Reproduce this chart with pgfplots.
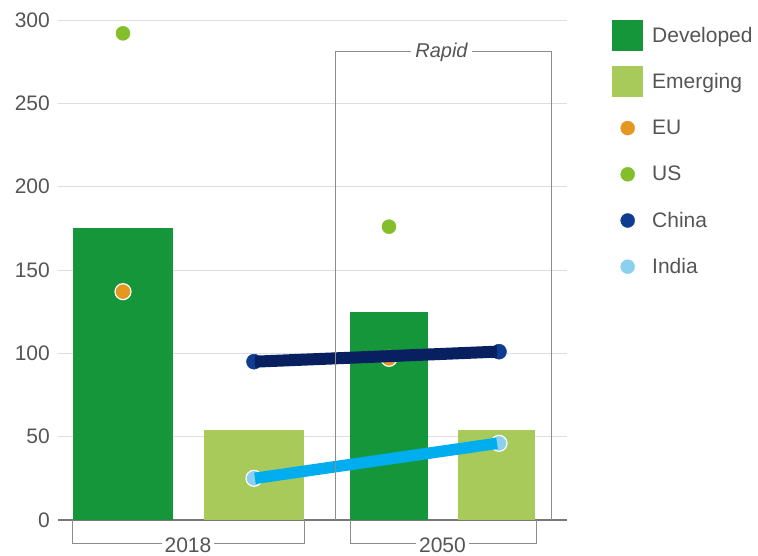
\documentclass[border=0pt]{standalone}
\usepackage{fontspec}
\setmainfont{Liberation Sans}
\usepackage{pgfplots}
\pgfplotsset{compat=1.18}
\definecolor{devC}{RGB}{22,150,58}
\definecolor{emgC}{RGB}{168,202,90}
\definecolor{euC}{RGB}{228,152,32}
\definecolor{usC}{RGB}{132,190,42}
\definecolor{chinaDot}{RGB}{14,60,145}
\definecolor{chinaLine}{RGB}{8,32,96}
\definecolor{indiaLine}{RGB}{0,174,239}
\definecolor{indiaDot}{RGB}{140,208,240}
\definecolor{textgray}{RGB}{85,85,85}
\definecolor{gridgray}{RGB}{222,222,222}
\definecolor{axisgray}{RGB}{120,120,120}
\definecolor{boxgray}{RGB}{140,140,140}
\begin{document}
\begin{tikzpicture}
\begin{axis}[
  scale only axis, width=509pt, height=500pt,
  xmin=58, xmax=567, ymin=0, ymax=300,
  clip=false, clip marker paths=true,
  axis x line*=bottom, axis y line*=left,
  x axis line style={-, draw=axisgray, line width=1.3pt},
  y axis line style={draw=none},
  xtick=\empty,
  ytick={0,50,100,150,200,250,300},
  ymajorgrids,
  grid style={draw=gridgray, line width=0.9pt},
  major tick length=0pt,
  /pgf/number format/assume math mode=true,
  yticklabel style={font=\fontsize{21}{25}\selectfont, text=textgray, inner sep=0pt, anchor=east, xshift=-8pt},
  legend style={at={(1.0884,1)}, anchor=north west, draw=none, fill=none, inner sep=0pt, row sep=15.2pt, column sep=9pt,
    nodes={inner sep=0pt, minimum height=31pt, font=\fontsize{21}{25}\selectfont, text=textgray}},
  legend cell align=left,
]
\addplot[ybar, bar width=100, bar shift=0pt, fill=devC, draw=none,
  legend image code/.code={\fill[devC] (0pt,-15.5pt) rectangle (31pt,15.5pt);}] coordinates {(123,175)};
\addlegendentry{Developed}
\addplot[forget plot, ybar, bar width=78, bar shift=0pt, fill=devC, draw=none] coordinates {(389,125)};
\addplot[ybar, bar width=100, bar shift=0pt, fill=emgC, draw=none,
  legend image code/.code={\fill[emgC] (0pt,-15.5pt) rectangle (31pt,15.5pt);}] coordinates {(254,54)};
\addlegendentry{Emerging}
\addplot[forget plot, ybar, bar width=77, bar shift=0pt, fill=emgC, draw=none] coordinates {(496.5,54)};

\addplot[only marks, mark=*, mark size=8pt, mark options={fill=euC, draw=white, line width=1.2pt},
  legend image code/.code={\fill[euC] (15.5pt,0pt) circle (7pt);}] coordinates {(123,137) (389,97)};
\addlegendentry{EU}
\addplot[only marks, mark=*, mark size=7pt, mark options={fill=usC, draw=usC, line width=0.5pt},
  legend image code/.code={\fill[usC] (15.5pt,0pt) circle (7pt);}] coordinates {(123,292) (389,176)};
\addlegendentry{US}
\addplot[only marks, mark=*, mark size=7.5pt, mark options={fill=chinaDot, draw=chinaDot, line width=0.5pt},
  legend image code/.code={\fill[chinaDot] (15.5pt,0pt) circle (7pt);}] coordinates {(254,95) (499,101)};
\addlegendentry{China}
\addplot[only marks, mark=*, mark size=8pt, mark options={fill=indiaDot, draw=white, line width=1.2pt},
  legend image code/.code={\fill[indiaDot] (15.5pt,0pt) circle (7pt);}] coordinates {(254,25) (499,46)};
\addlegendentry{India}

\addplot[forget plot, draw=chinaLine, line width=12pt, no marks] coordinates {(255,95) (497,101)};
\addplot[forget plot, draw=indiaLine, line width=11.5pt, no marks] coordinates {(255,25) (497,46)};

\draw[boxgray, line width=1pt] (axis cs:335,0) -- (axis cs:335,280.8) -- (axis cs:551,280.8) -- (axis cs:551,0);
\node[fill=white, inner sep=4pt, text=textgray, font=\fontsize{20}{24}\selectfont\itshape] at (axis cs:441.5,280.8) {Rapid};
\draw[boxgray, line width=1pt] (axis cs:73,0) -- (axis cs:73,-14.4) -- (axis cs:304,-14.4) -- (axis cs:304,0);
\node[fill=white, inner sep=3pt, text=textgray, font=\fontsize{21}{25}\selectfont] at (axis cs:188,-15.2) {2018};
\draw[boxgray, line width=1pt] (axis cs:350,0) -- (axis cs:350,-14.4) -- (axis cs:536,-14.4) -- (axis cs:536,0);
\node[fill=white, inner sep=3pt, text=textgray, font=\fontsize{21}{25}\selectfont] at (axis cs:442.5,-15.2) {2050};

\coordinate (pbl) at (axis cs:0,-21.6);
\coordinate (ptr) at (axis cs:758,312);
\end{axis}
\pgfresetboundingbox
\path[use as bounding box] (pbl) rectangle (ptr);
\end{tikzpicture}
\end{document}
